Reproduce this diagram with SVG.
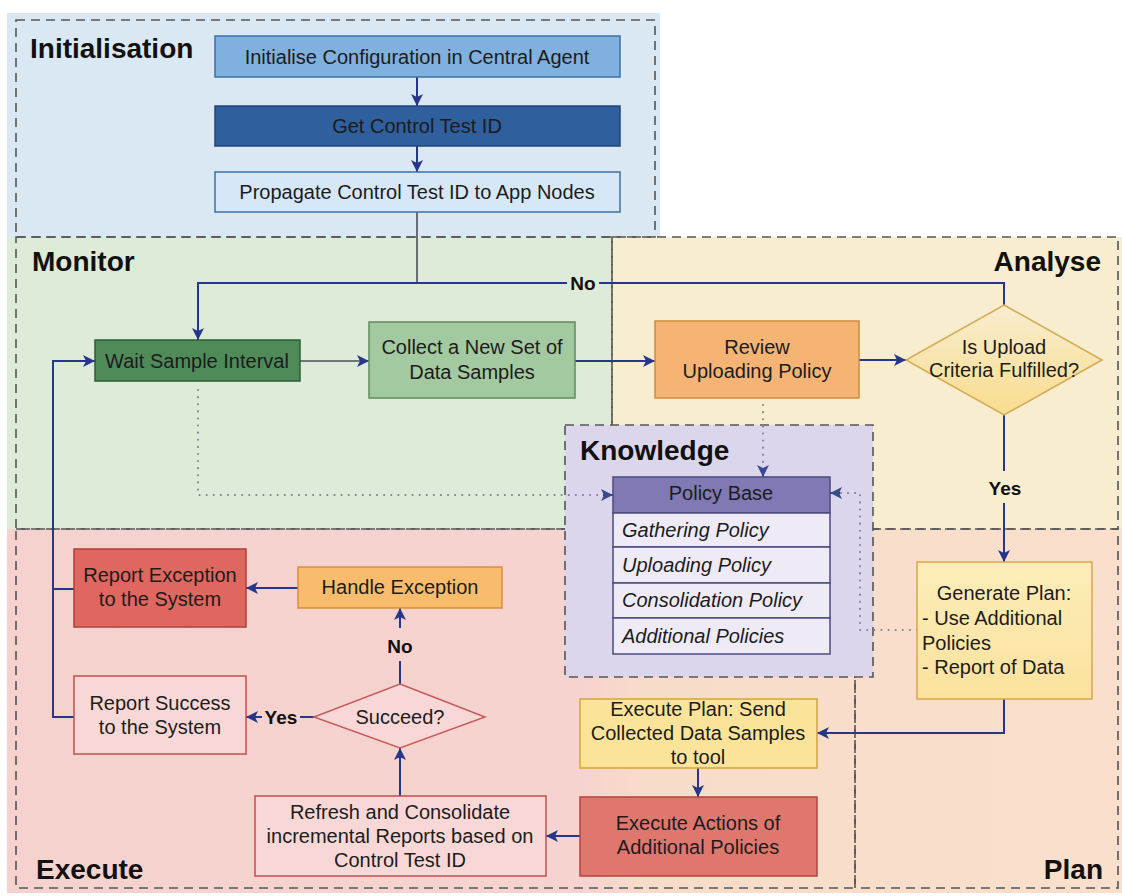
<svg xmlns="http://www.w3.org/2000/svg" width="1122" height="896" viewBox="0 0 1122 896">
  <style>
    text { font-family: "Liberation Sans", Arial, sans-serif; fill: #1c1c1c; }
    .t { font-size: 20px; text-anchor: middle; }
    .tl { font-size: 20px; }
    .it { font-size: 20px; font-style: italic; }
    .title { font-size: 28px; font-weight: bold; fill: #111; }
    .lbl { font-size: 19px; font-weight: bold; text-anchor: middle; fill: #111; }
    .zone { fill: none; stroke: #555; stroke-width: 1.6; stroke-dasharray: 9 6; }
    .flow { fill: none; stroke: #26368A; stroke-width: 2; }
    .flowg { fill: none; stroke: #4a4f58; stroke-width: 1.6; }
    .dot { fill: none; stroke: #7c7f98; stroke-width: 2; stroke-dasharray: 0.1 7; stroke-linecap: round; }
  </style>
  <defs>
    <marker id="arr" viewBox="0 0 10 10" refX="10" refY="5" markerWidth="12" markerHeight="12" markerUnits="userSpaceOnUse" orient="auto">
      <path d="M0,0 L10,5 L0,10 L2.5,5 z" fill="#26368A"/>
    </marker>
    <marker id="arrd" viewBox="0 0 10 10" refX="10" refY="5" markerWidth="12" markerHeight="12" markerUnits="userSpaceOnUse" orient="auto">
      <path d="M0,0 L10,5 L0,10 L2.5,5 z" fill="#3A4A8E"/>
    </marker>
    <linearGradient id="lowerBg" x1="0" y1="0" x2="1" y2="0">
      <stop offset="0" stop-color="#F6D2CF"/>
      <stop offset="0.52" stop-color="#F6D3CF"/>
      <stop offset="0.57" stop-color="#F8DCCA"/>
      <stop offset="1" stop-color="#F9DFCC"/>
    </linearGradient>
    <linearGradient id="diaY" x1="0" y1="0" x2="0" y2="1">
      <stop offset="0" stop-color="#F8EDCF"/>
      <stop offset="1" stop-color="#F9DC8E"/>
    </linearGradient>
    <linearGradient id="genY" x1="0" y1="0" x2="0" y2="1">
      <stop offset="0" stop-color="#FCEDB8"/>
      <stop offset="1" stop-color="#FBE29E"/>
    </linearGradient>
  </defs>

  <!-- zone backgrounds -->
  <g id="zones">
    <rect x="7" y="13" width="653" height="224" fill="#D9E8F3"/>
    <rect x="7" y="237" width="605" height="292" fill="#DFEBD9"/>
    <rect x="612" y="237" width="510" height="292" fill="#F8EDCF"/>
    <rect x="7" y="529" width="1115" height="364" fill="url(#lowerBg)"/>
    <rect class="zone" x="16" y="20" width="639" height="217"/>
    <rect class="zone" x="16" y="237" width="596" height="292"/>
    <rect class="zone" x="612" y="237" width="506" height="292"/>
    <rect class="zone" x="16" y="529" width="839" height="359"/>
    <rect class="zone" x="855" y="529" width="263" height="359"/>
    <g id="knowledge-zone">
      <rect x="565" y="425" width="308" height="252" fill="#DBD6EB"/>
      <rect class="zone" x="565" y="425" width="308" height="252"/>
    </g>
    <text class="title" x="30" y="58">Initialisation</text>
    <text class="title" x="32" y="271">Monitor</text>
    <text class="title" x="1101" y="271" text-anchor="end">Analyse</text>
    <text class="title" x="580" y="460">Knowledge</text>
    <text class="title" x="36" y="879">Execute</text>
    <text class="title" x="1103" y="879" text-anchor="end">Plan</text>
  </g>

  <!-- connectors -->
  <g id="connectors">
    <path class="flow" d="M417,77 V106" marker-end="url(#arr)"/>
    <path class="flow" d="M417,146 V172" marker-end="url(#arr)"/>
    <path class="flowg" d="M417,212 V283"/>
    <path class="flow" d="M1004,305 V283 H599"/>
    <path class="flow" d="M567,283 H198 V340" marker-end="url(#arr)"/>
    <path class="flowg" d="M300,361 H369" marker-end="url(#arr)"/>
    <path class="flow" d="M575,361 H655" marker-end="url(#arr)"/>
    <path class="flow" d="M859,360 H906" marker-end="url(#arr)"/>
    <path class="flow" d="M1004,415 V471"/>
    <path class="flow" d="M1004,503 V562" marker-end="url(#arr)"/>
    <path class="flow" d="M1004,699 V733 H817" marker-end="url(#arr)"/>
    <path class="flow" d="M698,768 V797" marker-end="url(#arr)"/>
    <path class="flow" d="M580,836 H546" marker-end="url(#arr)"/>
    <path class="flow" d="M400,796 V748" marker-end="url(#arr)"/>
    <path class="flow" d="M400,684 V661"/>
    <path class="flow" d="M400,628 V608" marker-end="url(#arr)"/>
    <path class="flow" d="M314,717 H300"/>
    <path class="flow" d="M262,717 H246" marker-end="url(#arr)"/>
    <path class="flow" d="M298,588 H246" marker-end="url(#arr)"/>
    <path class="flow" d="M74,589 H53"/>
    <path class="flow" d="M74,717 H53 V361 H95" marker-end="url(#arr)"/>
    <path class="dot" d="M198,390 V495 H610"/>
    <path class="flow" d="M603,495 H613" stroke="none" marker-end="url(#arrd)"/>
    <path class="dot" d="M763,405 V472"/>
    <path class="flow" d="M763,468 V477" stroke="none" marker-end="url(#arrd)"/>
    <path class="dot" d="M917,630 H860 V493 H834"/>
    <path class="flow" d="M840,493 H830" stroke="none" marker-end="url(#arrd)"/>
    <text class="lbl" x="583" y="290">No</text>
    <text class="lbl" x="1005" y="495">Yes</text>
    <text class="lbl" x="400" y="653">No</text>
    <text class="lbl" x="281" y="724">Yes</text>
  </g>

  <!-- Initialisation -->
  <g id="init-config">
    <rect x="215" y="36" width="405" height="41" fill="#80B0DD" stroke="#3F6FA8" stroke-width="1.5"/>
    <text class="t" x="417" y="64">Initialise Configuration in Central Agent</text>
  </g>
  <g id="get-id">
    <rect x="215" y="106" width="405" height="40" fill="#2F5F9D" stroke="#22467A" stroke-width="1.5"/>
    <text class="t" x="417" y="133">Get Control Test ID</text>
  </g>
  <g id="propagate">
    <rect x="215" y="172" width="405" height="40" fill="#D6E8F7" stroke="#3F6FA8" stroke-width="1.5"/>
    <text class="t" x="417" y="199">Propagate Control Test ID to App Nodes</text>
  </g>

  <!-- Monitor -->
  <g id="wait">
    <rect x="95" y="340" width="205" height="41" fill="#4F8B59" stroke="#2E5E36" stroke-width="1.5"/>
    <text class="t" x="197" y="368">Wait Sample Interval</text>
  </g>
  <g id="collect">
    <rect x="369" y="322" width="206" height="76" fill="#A3C9A0" stroke="#5F8C5E" stroke-width="1.5"/>
    <text class="t" x="472" y="354">Collect a New Set of</text>
    <text class="t" x="472" y="379">Data Samples</text>
  </g>

  <!-- Analyse -->
  <g id="review">
    <rect x="655" y="321" width="204" height="77" fill="#F6B474" stroke="#D08A3E" stroke-width="1.5"/>
    <text class="t" x="757" y="354">Review</text>
    <text class="t" x="757" y="378">Uploading Policy</text>
  </g>
  <g id="upload-check">
    <polygon points="1004,305 1102,360 1004,415 906,360" fill="url(#diaY)" stroke="#D4A952" stroke-width="1.5"/>
    <text class="t" x="1004" y="354">Is Upload</text>
    <text class="t" x="1004" y="377">Criteria Fulfilled?</text>
  </g>

  <!-- Knowledge -->
  <g id="policy-base">
    <rect x="613" y="477" width="217" height="36" fill="#8079B3" stroke="#4B4B7D" stroke-width="1.5"/>
    <text class="t" x="721" y="500">Policy Base</text>
    <rect x="613" y="513" width="217" height="34" fill="#EEEBF6" stroke="#4B4B7D" stroke-width="1.5"/>
    <rect x="613" y="547" width="217" height="36" fill="#EEEBF6" stroke="#4B4B7D" stroke-width="1.5"/>
    <rect x="613" y="583" width="217" height="35" fill="#EEEBF6" stroke="#4B4B7D" stroke-width="1.5"/>
    <rect x="613" y="618" width="217" height="36" fill="#EEEBF6" stroke="#4B4B7D" stroke-width="1.5"/>
    <text class="it" x="622" y="537">Gathering Policy</text>
    <text class="it" x="622" y="572">Uploading Policy</text>
    <text class="it" x="622" y="607">Consolidation Policy</text>
    <text class="it" x="622" y="643">Additional Policies</text>
  </g>

  <!-- Plan -->
  <g id="generate-plan">
    <rect x="917" y="562" width="175" height="137" fill="url(#genY)" stroke="#D8A848" stroke-width="1.5"/>
    <text class="t" x="1004" y="600">Generate Plan:</text>
    <text class="tl" x="922" y="625">- Use Additional</text>
    <text class="tl" x="922" y="650">Policies</text>
    <text class="tl" x="922" y="674">- Report of Data</text>
  </g>

  <!-- Execute -->
  <g id="execute-plan">
    <rect x="580" y="699" width="237" height="69" fill="#FBE49A" stroke="#D2A63A" stroke-width="1.5"/>
    <text class="t" x="698" y="716">Execute Plan: Send</text>
    <text class="t" x="698" y="740">Collected Data Samples</text>
    <text class="t" x="698" y="764">to tool</text>
  </g>
  <g id="execute-actions">
    <rect x="580" y="797" width="237" height="79" fill="#E0776F" stroke="#B5433C" stroke-width="1.5"/>
    <text class="t" x="698" y="830">Execute Actions of</text>
    <text class="t" x="698" y="854">Additional Policies</text>
  </g>
  <g id="refresh">
    <rect x="255" y="796" width="291" height="80" fill="#F8D8D6" stroke="#C24F4F" stroke-width="1.5"/>
    <text class="t" x="400" y="819">Refresh and Consolidate</text>
    <text class="t" x="400" y="843">incremental Reports based on</text>
    <text class="t" x="400" y="867">Control Test ID</text>
  </g>
  <g id="succeed">
    <polygon points="400,684 485,717 400,748 314,717" fill="#F8D8D6" stroke="#C65B5B" stroke-width="1.5"/>
    <text class="t" x="400" y="724">Succeed?</text>
  </g>
  <g id="handle-exception">
    <rect x="298" y="567" width="204" height="41" fill="#F8BC6C" stroke="#D4913D" stroke-width="1.5"/>
    <text class="t" x="400" y="594">Handle Exception</text>
  </g>
  <g id="report-exception">
    <rect x="74" y="549" width="172" height="78" fill="#E0675F" stroke="#B03E38" stroke-width="1.5"/>
    <text class="t" x="160" y="582">Report Exception</text>
    <text class="t" x="160" y="606">to the System</text>
  </g>
  <g id="report-success">
    <rect x="74" y="676" width="172" height="78" fill="#F8D8D6" stroke="#C24F4F" stroke-width="1.5"/>
    <text class="t" x="160" y="710">Report Success</text>
    <text class="t" x="160" y="734">to the System</text>
  </g>
</svg>
